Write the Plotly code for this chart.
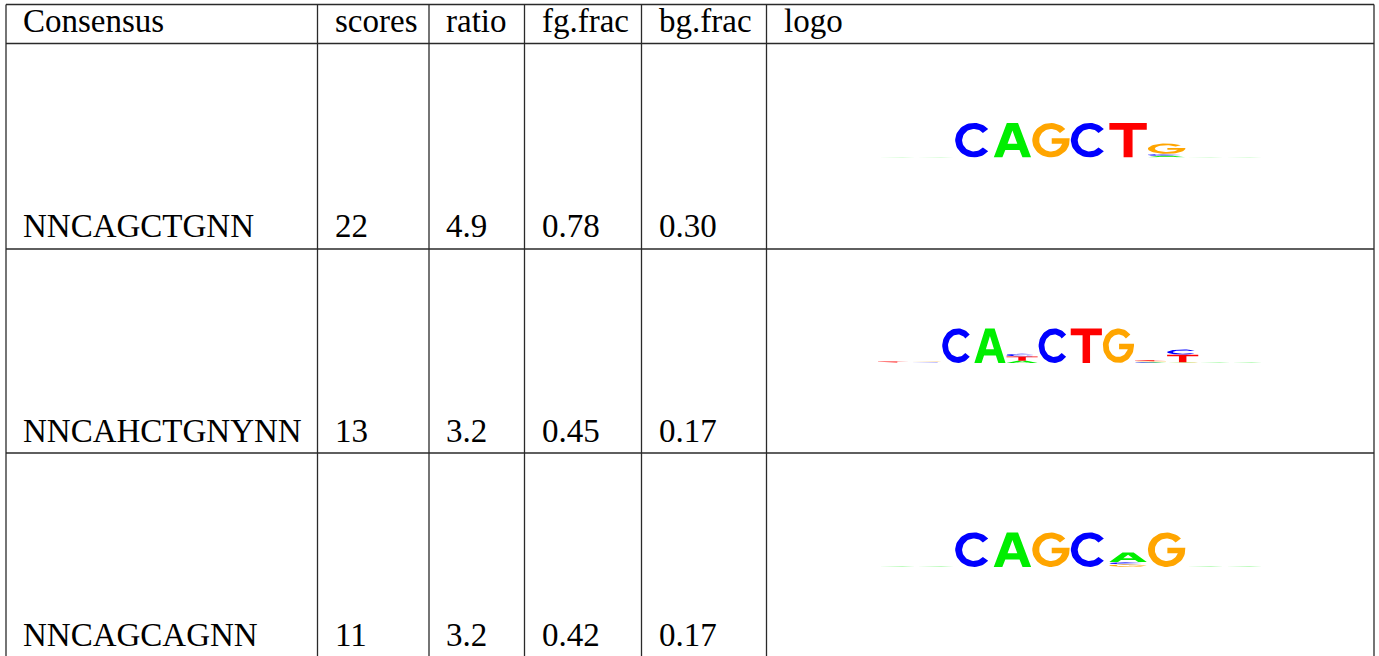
import numpy as np
import plotly.graph_objects as go

W, H = 1379, 656

# ---------------- data ----------------
headers = ["Consensus", "scores", "ratio", "fg.frac", "bg.frac", "logo"]
consensus = ["NNCAGCTGNN", "NNCAHCTGNYNN", "NNCAGCAGNN"]
scores = ["22", "13", "11"]
ratio = ["4.9", "3.2", "3.2"]
fg_frac = ["0.78", "0.45", "0.42"]
bg_frac = ["0.30", "0.17", "0.17"]

tiny = [("A", 0.02), ("C", 0.015), ("G", 0.015), ("T", 0.015)]

# each logo: list of positions, each a bottom->top stack of (letter, bits)
logo1 = [
    tiny, tiny,
    [("C", 1.9)], [("A", 1.9)], [("G", 1.9)], [("C", 1.9)], [("T", 1.9)],
    [("T", 0.02), ("A", 0.07), ("C", 0.11), ("G", 0.57)],
    tiny, tiny,
]
logo2 = [
    [("A", 0.01), ("C", 0.01), ("G", 0.01), ("T", 0.05)],
    [("A", 0.01), ("C", 0.015), ("T", 0.015), ("G", 0.03)],
    [("C", 1.9)], [("A", 1.9)],
    [("A", 0.12), ("T", 0.24), ("C", 0.15)],
    [("C", 1.9)], [("T", 1.9)], [("G", 1.9)],
    [("A", 0.03), ("C", 0.03), ("G", 0.04), ("T", 0.05)],
    [("A", 0.02), ("G", 0.02), ("T", 0.42), ("C", 0.28)],
    tiny, tiny,
]
logo3 = [
    tiny, tiny,
    [("C", 1.9)], [("A", 1.9)], [("G", 1.9)], [("C", 1.9)],
    [("T", 0.01), ("G", 0.14), ("C", 0.12), ("A", 0.52)],
    [("G", 1.9)],
    tiny, tiny,
]
logos = [logo1, logo2, logo3]

colors = {"A": "#00EE00", "C": "#0000FF", "G": "#FFA500", "T": "#FF0000"}

# ---------------- layout geometry (pixels) ----------------
col_px = [6, 317.5, 429, 524.5, 641.5, 766.5, 1374]
row_px = [4.5, 43.5, 249, 453, 657]
baselines = [32.5, 237.5, 441.7, 645.7]
logo_x_px = (877.5, 1263)
logo_base_offset = 114  # baseline of logo below row top
bits_px = 36.4          # pixel height of 2 bits
font_family = "Liberation Serif, Times New Roman, Times, DejaVu Serif, serif"
font_size = 33


def px(x):
    return x / W


def py(y):
    return 1 - y / H


# ---------------- glyphs ----------------
def arc(cx, cy, rx, ry, a0, a1, n=48):
    t = np.radians(np.linspace(a0, a1, n))
    return list(zip(cx + rx * np.cos(t), cy + ry * np.sin(t)))


RX_IN, RY_IN = 0.315, 0.325


def glyph(letter):
    if letter == "T":
        return [[(0, 1), (1, 1), (1, .80), (.62, .80), (.62, 0), (.38, 0), (.38, .80), (0, .80)]]
    if letter == "A":
        return [[(0, 0), (.35, 1), (.65, 1), (1, 0), (.77, 0), (.69, .22), (.31, .22), (.23, 0)],
                [(.37, .40), (.63, .40), (.5, .78)]]
    if letter == "C":
        outer = arc(.5, .5, .5, .5, 40, 320)
        inner = arc(.5, .5, RX_IN, RY_IN, 320, 40)
        return [outer + inner]
    if letter == "G":
        outer = arc(.5, .5, .5, .5, 40, 360)
        t1 = 360 - np.degrees(np.arcsin(0.1 / RY_IN))
        inner = arc(.5, .5, RX_IN, RY_IN, t1, 40)
        bar = [(1, .56), (.52, .56), (.52, .40)]
        return [outer + bar + inner]
    return []


fig = go.Figure()

pad = 0.015
for i, logo in enumerate(logos):
    n = len(logo)
    suffix = "" if i == 0 else str(i + 1)
    polys = {k: ([], []) for k in colors}
    for p, stack in enumerate(logo, start=1):
        y0 = 0.0
        for letter, h in stack:
            for poly in glyph(letter):
                xs = [p - 0.5 + pad + gx * (1 - 2 * pad) for gx, gy in poly]
                ys = [y0 + gy * h for gx, gy in poly]
                polys[letter][0].extend(xs + [xs[0], None])
                polys[letter][1].extend(ys + [ys[0], None])
            y0 += h
    for letter, (xs, ys) in polys.items():
        fig.add_trace(go.Scatter(
            x=xs, y=ys, mode="lines", fill="toself",
            fillcolor=colors[letter], line=dict(width=0, color=colors[letter]),
            hoverinfo="skip", showlegend=False,
            xaxis="x" + suffix, yaxis="y" + suffix,
        ))
    base = row_px[i + 1] + logo_base_offset
    fig.update_layout(**{
        "xaxis" + suffix: dict(domain=[px(logo_x_px[0]), px(logo_x_px[1])],
                               range=[0.5, n + 0.5], visible=False, fixedrange=True,
                               anchor="y" + suffix),
        "yaxis" + suffix: dict(domain=[py(base), py(base - bits_px)],
                               range=[0, 2], visible=False, fixedrange=True,
                               anchor="x" + suffix),
    })

# ---------------- table grid ----------------
shapes = []
line = dict(color="#2a2a2a", width=1.3)
for x in col_px:
    shapes.append(dict(type="line", xref="paper", yref="paper",
                       x0=px(x), x1=px(x), y0=py(row_px[0]), y1=py(row_px[-1]), line=line))
for y in row_px:
    shapes.append(dict(type="line", xref="paper", yref="paper",
                       x0=px(col_px[0]), x1=px(col_px[-1]), y0=py(y), y1=py(y), line=line))

# ---------------- table text ----------------
annotations = []


def cell_text(text, col, baseline):
    annotations.append(dict(
        text=text, xref="paper", yref="paper",
        x=px(col_px[col] + 15), y=py(baseline - 11),
        xanchor="left", yanchor="middle", showarrow=False,
        font=dict(family=font_family, size=font_size, color="#000000"),
    ))


for c, h in enumerate(headers):
    cell_text(h, c, baselines[0])

columns = [consensus, scores, ratio, fg_frac, bg_frac]
for r in range(3):
    for c, vals in enumerate(columns):
        cell_text(vals[r], c, baselines[r + 1])

fig.update_layout(
    width=W, height=H, autosize=False,
    margin=dict(l=0, r=0, t=0, b=0),
    paper_bgcolor="white", plot_bgcolor="white",
    font=dict(family=font_family),
    shapes=shapes, annotations=annotations,
    showlegend=False,
)

fig.write_html(
    "out.html",
    config={"displayModeBar": False},
    post_script="document.body.style.margin='0';document.body.style.overflow='hidden';",
)
